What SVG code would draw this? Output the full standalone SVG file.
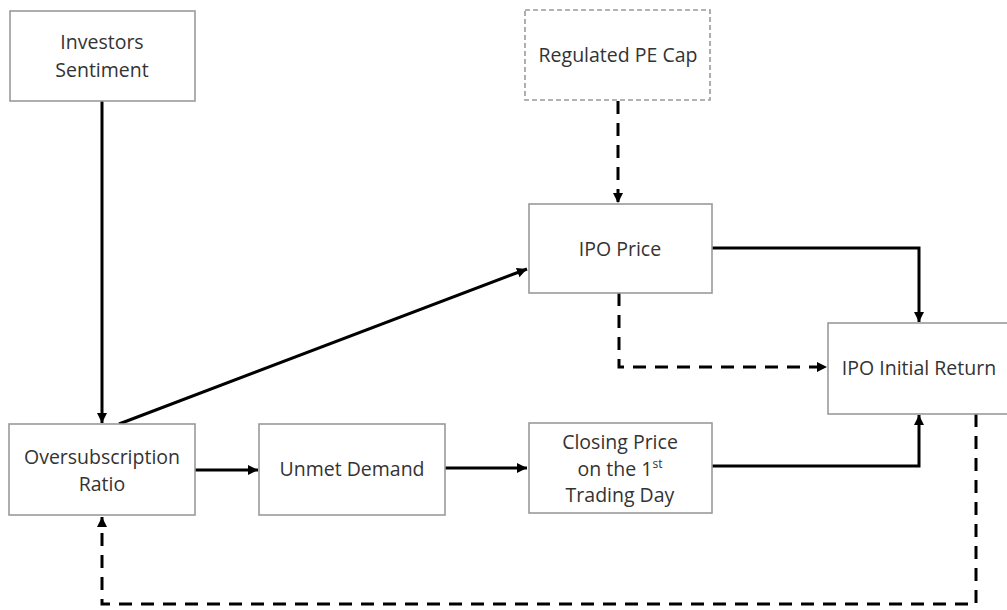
<svg xmlns="http://www.w3.org/2000/svg" width="1007" height="610" viewBox="0 0 1007 610">
<defs>
<marker id="ah" viewBox="0 0 10 10" refX="10" refY="5" markerWidth="10" markerHeight="10" markerUnits="userSpaceOnUse" orient="auto">
<path d="M0,0 L10,5 L0,10 Z" fill="#000"/>
</marker>
</defs>
<style>
.box{fill:#fff;stroke:#9a9a9a;stroke-width:1.6}
.dbox{fill:#fff;stroke:#9a9a9a;stroke-width:1.6;stroke-dasharray:5 3}
.t{font-family:"Open Sans","Liberation Sans",sans-serif;font-size:19.5px;fill:#333;text-anchor:middle}
.c{fill:none;stroke:#000;stroke-width:3}
.d{fill:none;stroke:#000;stroke-width:3;stroke-dasharray:13 9}
</style>
<rect width="1007" height="610" fill="#fff"/>
<g id="connectors">
<path class="c" d="M102,101 V423" marker-end="url(#ah)"/>
<path class="c" d="M119,424 L527,269" marker-end="url(#ah)"/>
<path class="d" d="M618,101 V203" marker-end="url(#ah)"/>
<path class="c" d="M712,248 H919 V322" marker-end="url(#ah)"/>
<path class="d" d="M619,293 V367 H827" marker-end="url(#ah)"/>
<path class="c" d="M195,470 H258" marker-end="url(#ah)"/>
<path class="c" d="M445,468 H527" marker-end="url(#ah)"/>
<path class="c" d="M712,466 H919 V415" marker-end="url(#ah)"/>
<path class="d" d="M976,414 V604 H102 V517" marker-end="url(#ah)"/>
</g>
<g id="investors-sentiment">
<rect class="box" x="10" y="11" width="185" height="90"/>
<text class="t" x="102" y="49">Investors</text>
<text class="t" x="102" y="77">Sentiment</text>
</g>
<g id="regulated-pe-cap">
<rect class="dbox" x="525" y="10" width="185" height="90"/>
<text class="t" x="618" y="62">Regulated PE Cap</text>
</g>
<g id="ipo-price">
<rect class="box" x="529" y="204" width="183" height="89"/>
<text class="t" x="620" y="256">IPO Price</text>
</g>
<g id="ipo-initial-return">
<rect class="box" x="828" y="323" width="182" height="91"/>
<text class="t" x="919" y="375">IPO Initial Return</text>
</g>
<g id="oversubscription-ratio">
<rect class="box" x="9" y="424" width="186" height="91"/>
<text class="t" x="102" y="464">Oversubscription</text>
<text class="t" x="102" y="491">Ratio</text>
</g>
<g id="unmet-demand">
<rect class="box" x="259" y="424" width="186" height="91"/>
<text class="t" x="352" y="476">Unmet Demand</text>
</g>
<g id="closing-price">
<rect class="box" x="529" y="423" width="183" height="90"/>
<text class="t" x="620" y="449">Closing Price</text>
<text class="t" x="620" y="476">on the 1<tspan font-size="12" dy="-8">st</tspan></text>
<text class="t" x="620" y="502">Trading Day</text>
</g>
</svg>
